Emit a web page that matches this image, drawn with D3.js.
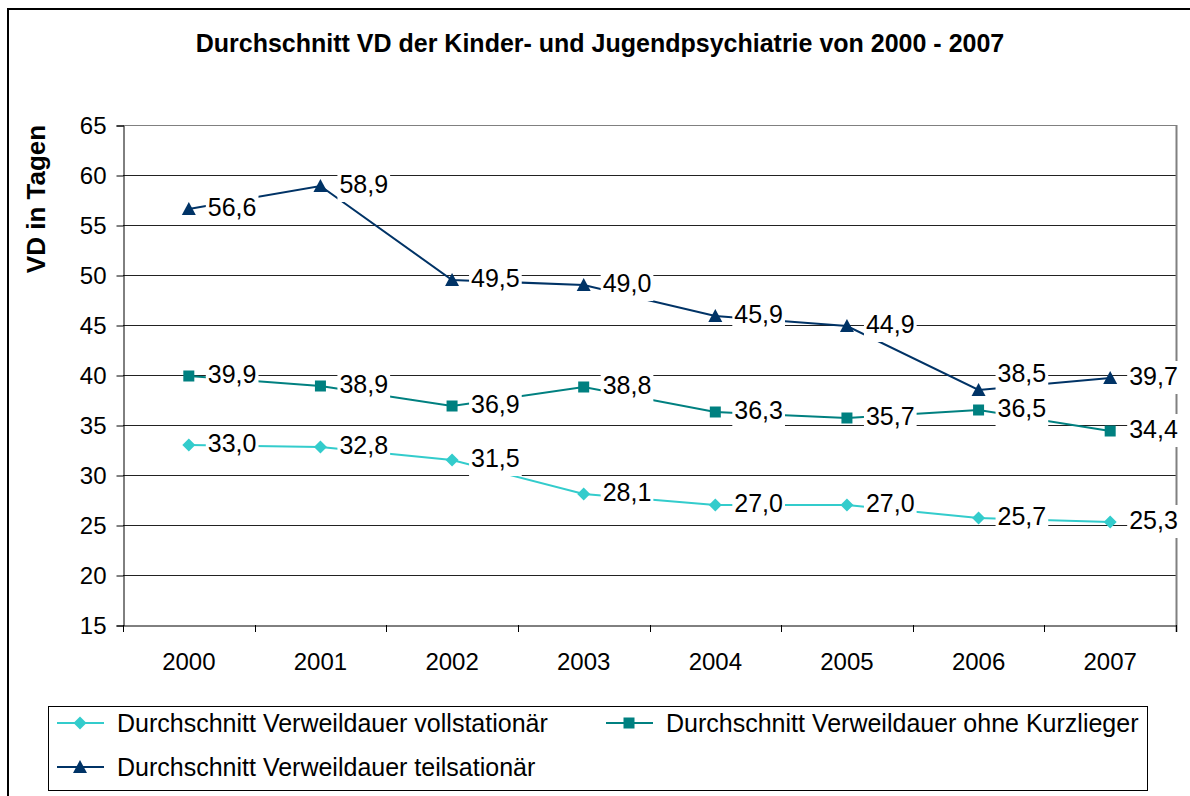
<!DOCTYPE html>
<html>
<head>
<meta charset="utf-8">
<script src="https://cdn.jsdelivr.net/npm/d3@7"></script>
<style>
    body { margin: 0; background: #fff; }
    svg { display: block; font-family: Arial, "Liberation Sans", sans-serif; }
</style>
</head>
<body>
<div id="chart"></div>
<script>
// data
const years = ["2000", "2001", "2002", "2003", "2004", "2005", "2006", "2007"];
const vollstationaer = [33.0, 32.8, 31.5, 28.1, 27.0, 27.0, 25.7, 25.3];
const ohneKurzlieger = [39.9, 38.9, 36.9, 38.8, 36.3, 35.7, 36.5, 34.4];
const teilstationaer = [56.6, 58.9, 49.5, 49.0, 45.9, 44.9, 38.5, 39.7];
const yTicks = [15, 20, 25, 30, 35, 40, 45, 50, 55, 60, 65];

const series = [
    {name: "Durchschnitt Verweildauer vollstationär", values: vollstationaer, color: "#33CCCC", marker: "diamond"},
    {name: "Durchschnitt Verweildauer ohne Kurzlieger", values: ohneKurzlieger, color: "#008080", marker: "square"},
    {name: "Durchschnitt Verweildauer teilsationär", values: teilstationaer, color: "#003366", marker: "triangle"}
];

const W = 1190, H = 796;
const plot = {left: 123, right: 1176, top: 125, bottom: 625};
const FONT = "Arial, 'Liberation Sans', sans-serif";

const svg = d3.select("#chart").append("svg")
    .attr("width", W)
    .attr("height", H);

// outer frame (runs off the right and bottom edge)
svg.append("rect")
    .attr("x", 8).attr("y", 9)
    .attr("width", W + 20).attr("height", H + 20)
    .attr("fill", "none")
    .attr("stroke", "#000")
    .attr("stroke-width", 2);

svg.append("text")
    .attr("x", 600).attr("y", 52)
    .attr("text-anchor", "middle")
    .attr("font-size", 25)
    .attr("font-weight", "bold")
    .text("Durchschnitt VD der Kinder- und Jugendpsychiatrie von 2000 - 2007");

const x = d3.scaleBand()
    .domain(years)
    .range([plot.left, plot.right]);

const y = d3.scaleLinear()
    .domain([15, 65])
    .range([plot.bottom, plot.top]);

// gridlines
svg.append("g")
    .selectAll("line")
    .data(yTicks.slice(1))
    .join("line")
    .attr("x1", plot.left).attr("x2", plot.right)
    .attr("y1", d => Math.round(y(d)) + 0.5).attr("y2", d => Math.round(y(d)) + 0.5)
    .attr("stroke", "#222")
    .attr("stroke-width", 1);

svg.append("line")
    .attr("x1", plot.left).attr("x2", plot.right)
    .attr("y1", plot.top + 0.5).attr("y2", plot.top + 0.5)
    .attr("stroke", "#808080");

// plot right border
svg.append("line")
    .attr("x1", plot.right + 0.5).attr("x2", plot.right + 0.5)
    .attr("y1", plot.top).attr("y2", plot.bottom + 7)
    .attr("stroke", "#808080")
    .attr("stroke-width", 2);

// y axis
const yAxis = d3.axisLeft(y)
    .tickValues(yTicks)
    .tickSize(7)
    .tickPadding(10)
    .tickFormat(d3.format("d"));

const yAxisGroup = svg.append("g")
    .attr("transform", `translate(${plot.left + 0.5},0.5)`)
    .call(yAxis);
yAxisGroup.select(".domain").attr("stroke", "#000");
yAxisGroup.selectAll("text").attr("font-size", 24).attr("font-family", FONT).attr("fill", "#000");

// x axis
const xAxis = d3.axisBottom(x)
    .tickSize(0)
    .tickPadding(27);

const xAxisGroup = svg.append("g")
    .attr("transform", `translate(0,${plot.bottom + 0.5})`)
    .call(xAxis);
xAxisGroup.select(".domain").attr("stroke", "#000");
xAxisGroup.selectAll("text").attr("font-size", 24).attr("font-family", FONT).attr("fill", "#000");

// category boundary ticks
svg.append("g")
    .selectAll("line")
    .data(years.concat(["end"]))
    .join("line")
    .attr("x1", (d, i) => Math.round(plot.left + i * x.step()) + 0.5)
    .attr("x2", (d, i) => Math.round(plot.left + i * x.step()) + 0.5)
    .attr("y1", plot.bottom)
    .attr("y2", plot.bottom + 7)
    .attr("stroke", "#000");

svg.append("text")
    .attr("transform", "translate(45,199) rotate(-90)")
    .attr("text-anchor", "middle")
    .attr("font-size", 26)
    .attr("font-weight", "bold")
    .text("VD in Tagen");

function drawMarker(g, type, color) {
    if (type === "diamond") {
        g.append("path").attr("d", "M0,-6.5L6.5,0L0,6.5L-6.5,0Z").attr("fill", color);
    } else if (type === "square") {
        g.append("rect").attr("x", -5.5).attr("y", -5.5).attr("width", 11).attr("height", 11).attr("fill", color);
    } else {
        g.append("path").attr("d", "M0,-7L7,6L-7,6Z").attr("fill", color);
    }
}

const line = d3.line()
    .x((d, i) => x(years[i]) + x.bandwidth() / 2)
    .y(d => y(d));

const fmt = v => d3.format(".1f")(v).replace(".", ",");

series.forEach(s => {
    svg.append("path")
        .datum(s.values)
        .attr("fill", "none")
        .attr("stroke", s.color)
        .attr("stroke-width", 2)
        .attr("d", line);
});

series.forEach(s => {
    s.values.forEach((v, i) => {
        const g = svg.append("g")
            .attr("transform", `translate(${x(years[i]) + x.bandwidth() / 2},${y(v)})`);
        drawMarker(g, s.marker, s.color);
    });
});

// data labels with white background
series.forEach((s, si) => {
    s.values.forEach((v, i) => {
        const cx = x(years[i]) + x.bandwidth() / 2;
        const cy = y(v);
        // the 2006 label of the top series was moved up by hand in the original
        const shift = (si === 2 && i === 6) ? -15 : 0;
        const g = svg.append("g").attr("transform", `translate(${cx + 19},${cy + 7 + shift})`);
        const bg = g.append("rect").attr("fill", "#fff");
        const t = g.append("text")
            .attr("x", 0).attr("y", 0)
            .attr("font-size", 25)
            .attr("fill", "#000")
            .text(fmt(v));
        const bb = t.node().getBBox();
        bg.attr("x", bb.x - 2).attr("y", -24)
            .attr("width", bb.width + 4).attr("height", 33);
    });
});

// legend
svg.append("rect")
    .attr("x", 48.5).attr("y", 706.5)
    .attr("width", 1099).attr("height", 84)
    .attr("fill", "#fff")
    .attr("stroke", "#000");

const legendPos = [
    {lx: 57, ty: 723},
    {lx: 606, ty: 723},
    {lx: 57, ty: 767}
];

series.forEach((s, i) => {
    const p = legendPos[i];
    const g = svg.append("g").attr("transform", `translate(${p.lx},${p.ty})`);
    g.append("line")
        .attr("x1", 0).attr("x2", 47)
        .attr("y1", 0).attr("y2", 0)
        .attr("stroke", s.color).attr("stroke-width", 2);
    const m = g.append("g").attr("transform", "translate(23,0)");
    drawMarker(m, s.marker, s.color);
    g.append("text")
        .attr("x", 60).attr("y", 9)
        .attr("font-size", 25)
        .attr("fill", "#000")
        .text(s.name);
});
</script>
</body>
</html>
